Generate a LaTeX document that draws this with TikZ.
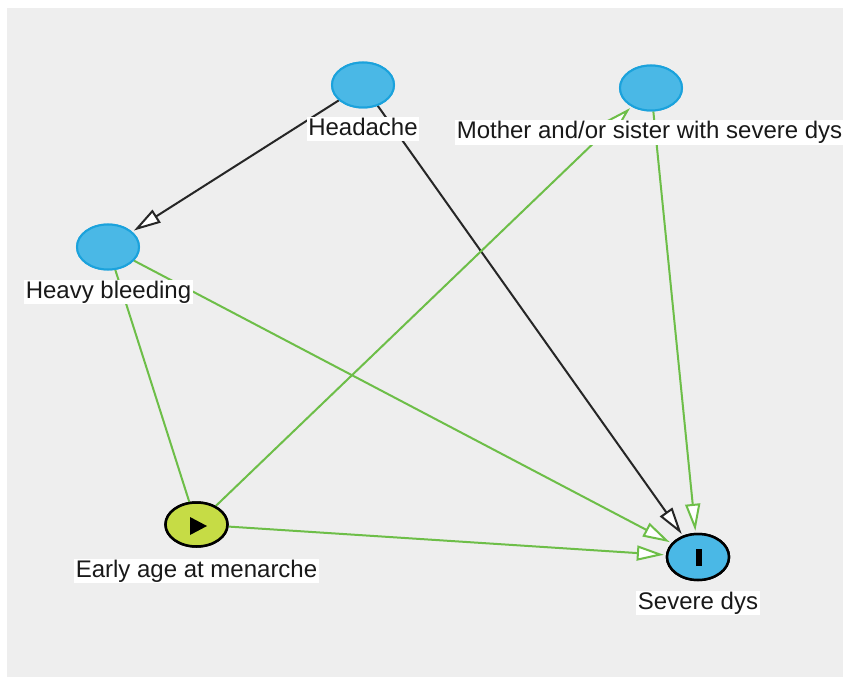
\documentclass[tikz,border=0pt]{standalone}
\usepackage{fontspec}
\setmainfont{Liberation Sans}
\usetikzlibrary{shapes.geometric,arrows.meta}
\definecolor{bggray}{HTML}{EEEEEE}
\definecolor{nodeblue}{HTML}{4AB8E6}
\definecolor{bordblue}{HTML}{1BA2DC}
\definecolor{expgreen}{HTML}{C6DC45}
\definecolor{edgegreen}{HTML}{6DBE48}
\tikzset{
  var/.style={ellipse, minimum width=62pt, minimum height=45pt, inner sep=0pt, fill=nodeblue, draw=bordblue, line width=2pt},
  expo/.style={ellipse, minimum width=62pt, minimum height=44pt, inner sep=0pt, fill=expgreen, draw=black, line width=2.5pt},
  outc/.style={ellipse, minimum width=62pt, minimum height=46pt, inner sep=0pt, fill=nodeblue, draw=black, line width=2.5pt},
  lbl/.style={fill=white, inner xsep=1.5pt, inner ysep=1pt, text height=17.5pt, text depth=5pt, font=\fontsize{24pt}{26pt}\selectfont, text=black!90},
  tip/.style={-{Triangle[fill=white,length=27pt,width=15pt]}},
  blackedge/.style={tip, draw=black!85, line width=2pt, shorten >=2pt},
  greenedge/.style={tip, draw=edgegreen, line width=2pt, shorten >=2pt},
  plaingreen/.style={draw=edgegreen, line width=2pt}
}
\begin{document}
\begin{tikzpicture}[x=1pt,y=-1pt]
\clip (0,0) rectangle (843,679);
\fill[white] (0,0) rectangle (843,679);
\fill[bggray] (7,8) rectangle (843,677);
% nodes
\node[var] (head) at (363,85) {};
\node[var] (moth) at (651,88) {};
\node[var] (heavy) at (108,247) {};
\node[expo] (early) at (196.5,524.5) {};
\node[outc] (sev) at (698,557) {};
% edges
\draw[blackedge] (head) -- (heavy);
\draw[blackedge] (head) -- (sev);
\draw[greenedge] (early) -- (moth);
\draw[greenedge] (moth) -- (sev);
\draw[greenedge] (heavy) -- (sev);
\draw[greenedge] (early) -- (sev);
\draw[plaingreen] (early) -- (heavy);
% redraw nodes on top
\node[var] at (363,85) {};
\node[var] at (651,88) {};
\node[var] at (108,247) {};
\node[expo] at (196.5,524.5) {};
\node[outc] at (698,557) {};
% markers
\fill[black] (190,517) -- (190,535) -- (207,526) -- cycle;
\fill[black] (696,549) rectangle (702,566);
% labels
\node[lbl] (headl) at (363,129) {Headache};
\node[lbl] (mothl) at (649.5,132.5) {Mother and/or sister with severe dys};
\node[lbl] (heavyl) at (108.5,292) {Heavy bleeding};
\node[lbl] (earlyl) at (196.5,571) {Early age at menarche};
\node[lbl] (sevl) at (698,603) {Severe dys};
\end{tikzpicture}
\end{document}
